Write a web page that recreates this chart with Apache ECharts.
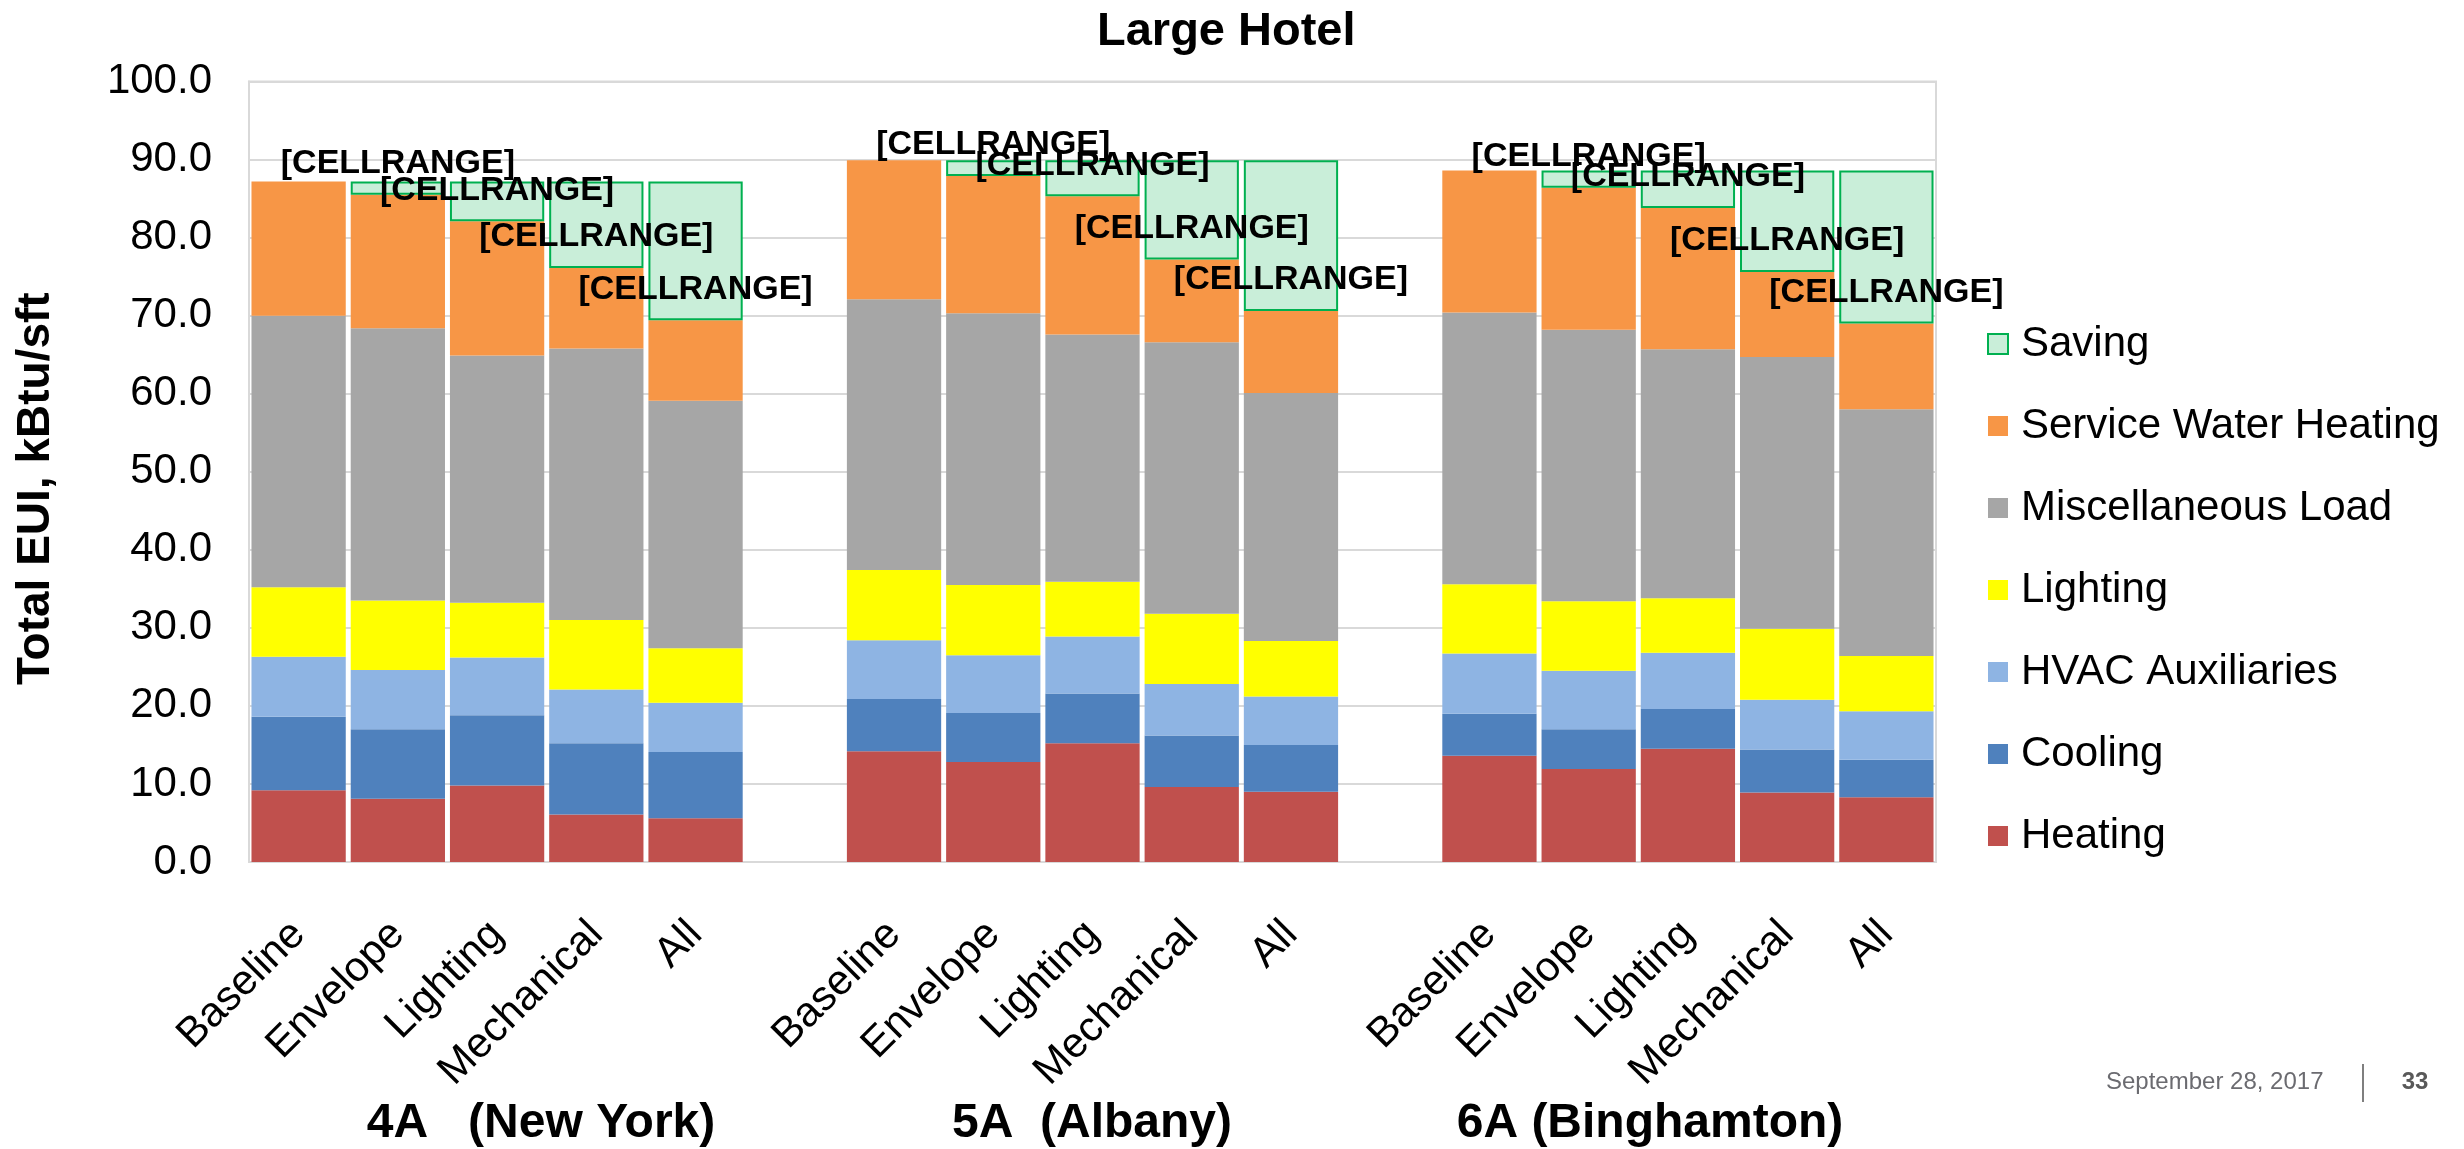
<!DOCTYPE html>
<html><head><meta charset="utf-8">
<script src="https://cdn.jsdelivr.net/npm/echarts@6/dist/echarts.min.js"></script>
<style>html,body{margin:0;padding:0;background:#fff}#c{width:2464px;height:1149px}</style>
</head><body><div id="c"></div>
<script>
// ---- data ----
const scenarios = ['Baseline', 'Envelope', 'Lighting', 'Mechanical', 'All'];
const climates = ['4A   (New York)', '5A  (Albany)', '6A (Binghamton)'];
const seriesNames = ['Heating', 'Cooling', 'HVAC Auxiliaries', 'Lighting', 'Miscellaneous Load', 'Service Water Heating', 'Saving'];
const heating  = [9.2, 8.1, 9.8, 6.1, 5.6,   14.2, 12.8, 15.2, 9.6, 9.0,   13.6, 11.9, 14.5, 8.9, 8.3];
const cooling  = [9.4, 8.9, 9.0, 9.1, 8.5,   6.7, 6.3, 6.4, 6.6, 6.0,      5.4, 5.1, 5.1, 5.5, 4.8];
const hvacAux  = [7.7, 7.6, 7.4, 6.9, 6.3,   7.5, 7.4, 7.3, 6.6, 6.2,      7.7, 7.5, 7.2, 6.4, 6.2];
const lighting = [8.9, 8.9, 7.0, 8.9, 7.0,   9.0, 9.0, 7.0, 9.0, 7.1,      8.9, 8.9, 7.0, 9.1, 7.1];
const miscLoad = [34.8, 34.9, 31.7, 34.8, 31.7,  34.7, 34.8, 31.7, 34.8, 31.8,  34.8, 34.8, 31.9, 34.8, 31.6];
const swh      = [17.2, 17.1, 17.2, 10.3, 10.3,  17.8, 17.6, 17.7, 10.6, 10.5,  18.2, 18.2, 18.1, 10.9, 11.0];
const saving   = [0, 1.7, 5.1, 11.1, 17.8,   0, 2.0, 4.6, 12.7, 19.3,     0, 2.2, 4.8, 13.0, 19.6];
const savingLabel = '[CELLRANGE]';
const colors = ['#C0504D', '#4F81BD', '#8EB4E3', '#FFFF00', '#A6A6A6', '#F79646', '#C9EED9'];

// ---- build category axis with a blank slot between climate groups ----
const cats = [];
climates.forEach((c, g) => {
  scenarios.forEach(s => cats.push(s));
  if (g < climates.length - 1) cats.push('');
});
function expand(arr) {
  const out = [];
  climates.forEach((c, g) => {
    for (let i = 0; i < scenarios.length; i++) {
      const v = arr[g * scenarios.length + i];
      out.push(v > 0 ? v : '-');
    }
    if (g < climates.length - 1) out.push('-');
  });
  return out;
}
const FONT = 'Liberation Sans, Arial, sans-serif';
const values = [heating, cooling, hvacAux, lighting, miscLoad, swh, saving];
const series = values.map((arr, i) => {
  const s = {
    name: seriesNames[i], type: 'bar', stack: 'eui', barCategoryGap: '5%',
    data: expand(arr), itemStyle: { color: colors[i] }, emphasis: { disabled: true }
  };
  if (seriesNames[i] === 'Saving') {
    s.itemStyle = { color: colors[i], borderColor: '#00B050', borderWidth: 2 };
    s.label = {
      show: true, position: 'insideBottom', distance: 14, formatter: savingLabel,
      fontSize: 34, fontWeight: 'bold', color: '#000', fontFamily: FONT
    };
  }
  return s;
});

const groupCenters = [541, 1092, 1650];
const graphics = climates.map((c, i) => ({
  type: 'text', x: groupCenters[i], y: 1124,
  style: { text: c, fontSize: 48, fontWeight: 'bold', fill: '#000', fontFamily: FONT, textAlign: 'center', textVerticalAlign: 'middle' }
}));
graphics.push(
  { type: 'text', x: 2106, y: 1082, style: { text: 'September 28, 2017', fontSize: 24, fill: '#6b6b70', fontFamily: FONT, textAlign: 'left', textVerticalAlign: 'middle' } },
  { type: 'line', shape: { x1: 2363, y1: 1064, x2: 2363, y2: 1102 }, style: { stroke: '#7f7f7f', lineWidth: 2 } },
  { type: 'text', x: 2415, y: 1082, style: { text: '33', fontSize: 24, fontWeight: 'bold', fill: '#595959', fontFamily: FONT, textAlign: 'center', textVerticalAlign: 'middle' } }
);

const chart = echarts.init(document.getElementById('c'));
chart.setOption({
  backgroundColor: '#fff',
  animation: false,
  title: { text: 'Large Hotel', left: 1092, top: 4, textStyle: { fontSize: 47, fontWeight: 'bold', color: '#000', fontFamily: FONT } },
  legend: {
    orient: 'vertical', left: 1982, top: 318, itemWidth: 20, itemHeight: 20, itemGap: 40,
    icon: 'rect', selectedMode: false,
    data: seriesNames.slice().reverse(),
    textStyle: { fontSize: 42, color: '#000', fontFamily: FONT, lineHeight: 42, padding: [0, 0, 0, 8] }
  },
  grid: { left: 249, right: 528, top: 81.5, bottom: 287, show: true, borderColor: '#d9d9d9', borderWidth: 2 },
  xAxis: {
    type: 'category', data: cats,
    axisTick: { show: false },
    axisLine: { lineStyle: { color: '#d9d9d9', width: 2 } },
    axisLabel: { interval: 0, rotate: 45, fontSize: 42, color: '#000', margin: 66, fontFamily: FONT }
  },
  yAxis: {
    type: 'value', min: 0, max: 100, interval: 10,
    name: 'Total EUI, kBtu/sft', nameLocation: 'middle', nameGap: 190,
    nameTextStyle: { fontSize: 46, fontWeight: 'bold', color: '#000', fontFamily: FONT, padding: [0, 34, 0, 0] },
    axisLine: { show: true, lineStyle: { color: '#d9d9d9', width: 2 } },
    axisTick: { show: false },
    axisLabel: { formatter: v => v.toFixed(1), fontSize: 42, color: '#000', margin: 37, fontFamily: FONT },
    splitLine: { lineStyle: { color: '#d9d9d9', width: 2 } }
  },
  graphic: graphics,
  series: series
});
</script></body></html>
